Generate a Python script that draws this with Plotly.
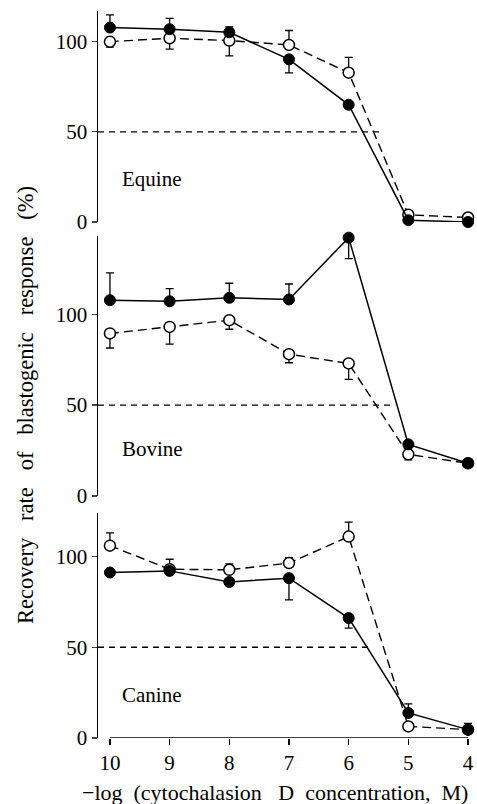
import plotly.graph_objects as go

# ---------------- data ----------------
log_conc = [10, 9, 8, 7, 6, 5, 4]
x_tick_labels = ["10", "9", "8", "7", "6", "5", "4"]
y_ticks = [0, 50, 100]

# Equine
equine_filled = [107.8, 106.9, 105.2, 90.2, 65.0, 1.0, 0.0]
equine_filled_err_plus = [7, 6, 3, 0, 0, 0, 0]
equine_filled_err_minus = [0, 0, 0, 7.5, 0, 0, 0]
equine_open = [100.0, 101.9, 100.6, 98.2, 82.8, 4.0, 2.5]
equine_open_err_plus = [0, 0, 0, 8, 8.5, 0, 0]
equine_open_err_minus = [3, 6, 8.5, 0, 0, 0, 0]

# Bovine
bovine_filled = [107.7, 107.1, 109.0, 108.1, 142.1, 28.4, 18.0]
bovine_filled_err_plus = [15, 7, 8, 8.5, 0, 0, 0]
bovine_filled_err_minus = [0, 0, 0, 0, 11.5, 0, 0]
bovine_open = [89.4, 93.0, 96.7, 78.0, 72.9, 22.9, 18.0]
bovine_open_err_plus = [0, 0, 0, 0, 0, 0, 0]
bovine_open_err_minus = [8, 9.5, 5, 4.7, 8.8, 3, 0]

# Canine
canine_filled = [91.2, 92.1, 86.0, 88.1, 66.1, 13.8, 4.6]
canine_filled_err_plus = [2, 0, 0, 0, 0, 5, 3.5]
canine_filled_err_minus = [2, 2, 2, 12, 5.5, 0, 0]
canine_open = [106.0, 93.0, 92.7, 96.4, 111.0, 6.4, 4.6]
canine_open_err_plus = [7, 5.5, 3.3, 3, 8, 0, 0]
canine_open_err_minus = [0, 0, 0, 0, 0, 2, 0]

panel_names = ["Equine", "Bovine", "Canine"]
panel_y_max = [117, 143, 124]
half_line_end = [5.45, 5.22, 5.6]   # x where dashed 50% guide ends
half_level = 50

# ---------------- figure ----------------
FONT = "Liberation Serif"
W, H = 477, 804
ML, MR, MT, MB = 98, 3, 11, 66
plot_h = H - MT - MB
x_range = [10.2, 3.9]
NB = "\u00a0"

fig = go.Figure()

# axis ids: top -> y3, middle -> y2, bottom -> y
panels = [
    ("y3", equine_filled, equine_filled_err_plus, equine_filled_err_minus,
     equine_open, equine_open_err_plus, equine_open_err_minus),
    ("y2", bovine_filled, bovine_filled_err_plus, bovine_filled_err_minus,
     bovine_open, bovine_open_err_plus, bovine_open_err_minus),
    ("y", canine_filled, canine_filled_err_plus, canine_filled_err_minus,
     canine_open, canine_open_err_plus, canine_open_err_minus),
]

for i, (yax, fy, fp, fm, oy, op, om) in enumerate(panels):
    # dashed 50% guide
    fig.add_trace(go.Scatter(
        x=[x_range[0], half_line_end[i]], y=[half_level, half_level],
        xaxis="x", yaxis=yax, mode="lines",
        line=dict(color="black", width=1.3, dash="6px,5px"),
        showlegend=False, hoverinfo="skip"))
    # open circles, dashed line
    fig.add_trace(go.Scatter(
        x=log_conc, y=oy, xaxis="x", yaxis=yax, mode="lines+markers",
        line=dict(color="black", width=1.4, dash="9px,5px"),
        marker=dict(symbol="circle", size=11, color="white",
                    line=dict(color="black", width=1.5)),
        error_y=dict(type="data", symmetric=False, array=op, arrayminus=om,
                     color="black", thickness=1.3, width=4),
        cliponaxis=False, showlegend=False))
    # filled circles, solid line
    fig.add_trace(go.Scatter(
        x=log_conc, y=fy, xaxis="x", yaxis=yax, mode="lines+markers",
        line=dict(color="black", width=1.5),
        marker=dict(symbol="circle", size=11, color="black",
                    line=dict(color="black", width=1)),
        error_y=dict(type="data", symmetric=False, array=fp, arrayminus=fm,
                     color="black", thickness=1.3, width=4),
        cliponaxis=False, showlegend=False))

def dom(top_px, bot_px):
    base = H - MB
    return [(base - bot_px) / plot_h, (base - top_px) / plot_h]

yaxis_common = dict(
    tickvals=y_ticks, ticks="outside", ticklen=5, tickwidth=1.3,
    showline=True, linewidth=1.5, linecolor="black",
    showgrid=False, zeroline=False,
    tickfont=dict(family=FONT, size=21, color="black"),
    anchor="x", automargin=False,
)

fig.update_layout(
    width=W, height=H,
    margin=dict(l=ML, r=MR, t=MT, b=MB, autoexpand=False),
    paper_bgcolor="white", plot_bgcolor="white",
    font=dict(family=FONT, size=21, color="black"),
    xaxis=dict(range=x_range, tickvals=log_conc, ticktext=x_tick_labels,
               ticks="outside", ticklen=6, tickwidth=1.3, tickcolor="black",
               showline=False, showgrid=False, zeroline=False,
               tickfont=dict(family=FONT, size=21, color="black"),
               anchor="y", automargin=False),
    yaxis=dict(range=[0, panel_y_max[2]], domain=dom(513, 738), **yaxis_common),
    yaxis2=dict(range=[0, panel_y_max[1]], domain=dom(236, 496), **yaxis_common),
    yaxis3=dict(range=[0, panel_y_max[0]], domain=dom(11, 222), **yaxis_common),
)

# x-axis baseline from first to last tick
fig.add_shape(type="line", xref="x", yref="y",
              x0=max(log_conc), x1=min(log_conc), y0=0, y1=0,
              line=dict(color="black", width=1.5))

# panel labels
label_y = [24, 25.8, 23.8]
label_ax = ["y3", "y2", "y"]
for name, ly, ax in zip(panel_names, label_y, label_ax):
    fig.add_annotation(text=name, x=9.83, y=ly, xref="x", yref=ax,
                       xanchor="left", yanchor="middle", showarrow=False,
                       font=dict(family=FONT, size=21, color="black"))

# axis titles
xt = ("−log" + NB * 2 + "(cytochalasion" + NB * 3 + "D" + NB * 2 +
      "concentration," + NB * 2 + "M)")
fig.add_annotation(text=xt,
                   xref="paper", yref="paper",
                   x=(275 - ML) / (W - ML - MR), y=-(792 - (H - MB)) / plot_h,
                   xanchor="center", yanchor="middle", showarrow=False,
                   font=dict(family=FONT, size=22, color="black"))
yt = NB * 3
yt = yt.join(["Recovery", "rate", "of", "blastogenic", "response", "(%)"])
fig.add_annotation(text=yt,
                   xref="paper", yref="paper", textangle=-90,
                   x=(25 - ML) / (W - ML - MR), y=((H - MB) - 405) / plot_h,
                   xanchor="center", yanchor="middle", showarrow=False,
                   font=dict(family=FONT, size=22.5, color="black"))

fig.write_html("out.html",
               config={"displayModeBar": False, "staticPlot": True},
               post_script="document.body.style.margin='0';"
                           "document.body.style.padding='0';")
